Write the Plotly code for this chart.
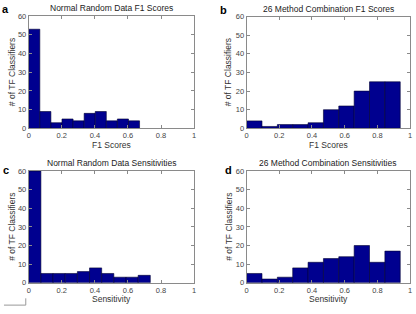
import numpy as np
import plotly.graph_objects as go

# ---- data ----
counts_a = [53, 9, 3, 5, 4, 8, 9, 4, 5, 4]
counts_b = [4, 1, 2, 2, 3, 10, 12, 20, 25, 25]
counts_c = [60, 5, 5, 5, 6, 8, 5, 3, 3, 4]
counts_d = [5, 2, 3, 8, 11, 13, 14, 20, 11, 17]
binmax_a = 0.67
binmax_b = 0.94
binmax_c = 0.735
binmax_d = 0.94
titles = ["Normal Random Data F1 Scores", "26 Method Combination F1 Scores",
          "Normal Random Data Sensitivities", "26 Method Combination Sensitivities"]
xlabels = ["F1 Scores", "F1 Scores", "Sensitivity", "Sensitivity"]
ylabel = "# of TF Classifiers"
letters = ["a", "b", "c", "d"]
xticks = [0, 0.2, 0.4, 0.6, 0.8, 1]
xticktext = ["0", "0.2", "0.4", "0.6", "0.8", "1"]
yticks = [0, 10, 20, 30, 40, 50, 60]

W, H = 416, 314
# axes pixel boxes: (left, right, top, bottom)
boxes = [(27, 194, 12.5, 128), (247, 412, 13, 128),
         (27, 194, 172, 287), (247, 412, 172, 287)]
xtitle_y = [145, 145, 303.5, 303.5]
ytitle_x = [10, 229, 10, 229]

fig = go.Figure()
datasets = [(counts_a, binmax_a), (counts_b, binmax_b), (counts_c, binmax_c), (counts_d, binmax_d)]
BAR = "#00008F"
FONT = "Liberation Sans, Arial, sans-serif"
annotations = []
for i, ((cnts, bmax), (l, r, t, b)) in enumerate(zip(datasets, boxes)):
    n = len(cnts)
    edges = np.linspace(0, bmax, n + 1)
    centers = (edges[:-1] + edges[1:]) / 2
    width = bmax / n
    sfx = "" if i == 0 else str(i + 1)
    fig.add_trace(go.Bar(x=centers, y=cnts, width=width,
                         marker=dict(color=BAR, line=dict(color="#000033", width=0.6)),
                         xaxis="x" + sfx, yaxis="y" + sfx, showlegend=False, hoverinfo="skip"))
    xd = [l / W, r / W]
    yd = [1 - b / H, 1 - t / H]
    common = dict(showline=True, linecolor="#8a8a8a", linewidth=1, mirror="ticks",
                  ticks="inside", ticklen=3, tickcolor="#8a8a8a", showgrid=False,
                  zeroline=False, tickfont=dict(size=7.5, color="#444", family=FONT))
    fig.layout["xaxis" + sfx] = dict(domain=xd, range=[0, 1], tickvals=xticks, ticktext=xticktext,
                                     anchor="y" + sfx, ticklabelstandoff=0, **common)
    fig.layout["yaxis" + sfx] = dict(domain=yd, range=[0, 60], tickvals=yticks,
                                     anchor="x" + sfx, **common)
    annotations.append(dict(text=titles[i], x=(l + r) / 2 / W, y=1 - (t - 8) / H, xref="paper", yref="paper",
                            showarrow=False, font=dict(size=8.5, color="#222", family=FONT),
                            xanchor="center", yanchor="middle"))
    annotations.append(dict(text=xlabels[i], x=(l + r) / 2 / W, y=1 - xtitle_y[i] / H, xref="paper",
                            yref="paper", showarrow=False, font=dict(size=8.5, color="#333", family=FONT),
                            xanchor="center", yanchor="middle"))
    annotations.append(dict(text=ylabel, x=ytitle_x[i] / W, y=1 - (t + b) / 2 / H, xref="paper",
                            yref="paper", showarrow=False, textangle=-90,
                            font=dict(size=8.5, color="#333", family=FONT),
                            xanchor="center", yanchor="middle"))
letter_pos = [(4, 5), (224, 6), (4, 171), (229, 171)]
for (lx, ly), lt in zip(letter_pos, letters):
    annotations.append(dict(text="<b>" + lt + "</b>", x=lx / W, y=1 - ly / H, xref="paper", yref="paper",
                            showarrow=False, font=dict(size=11, color="#000", family=FONT),
                            xanchor="center", yanchor="middle"))

shapes = [
    dict(type="line", xref="paper", yref="paper", x0=2 / W, x1=24 / W, y0=1 - 310 / H, y1=1 - 310 / H,
         line=dict(color="#999", width=1)),
    dict(type="line", xref="paper", yref="paper", x0=24 / W, x1=24 / W, y0=1 - 310 / H, y1=1 - 303 / H,
         line=dict(color="#999", width=1)),
]

fig.update_layout(width=W, height=H, margin=dict(l=0, r=0, t=0, b=0),
                  paper_bgcolor="white", plot_bgcolor="white", bargap=0,
                  annotations=annotations, shapes=shapes, font=dict(family=FONT))
fig.write_html("out.html", config={"displayModeBar": False, "staticPlot": True},
               post_script="document.body.style.margin='0';document.body.style.overflow='hidden';")
